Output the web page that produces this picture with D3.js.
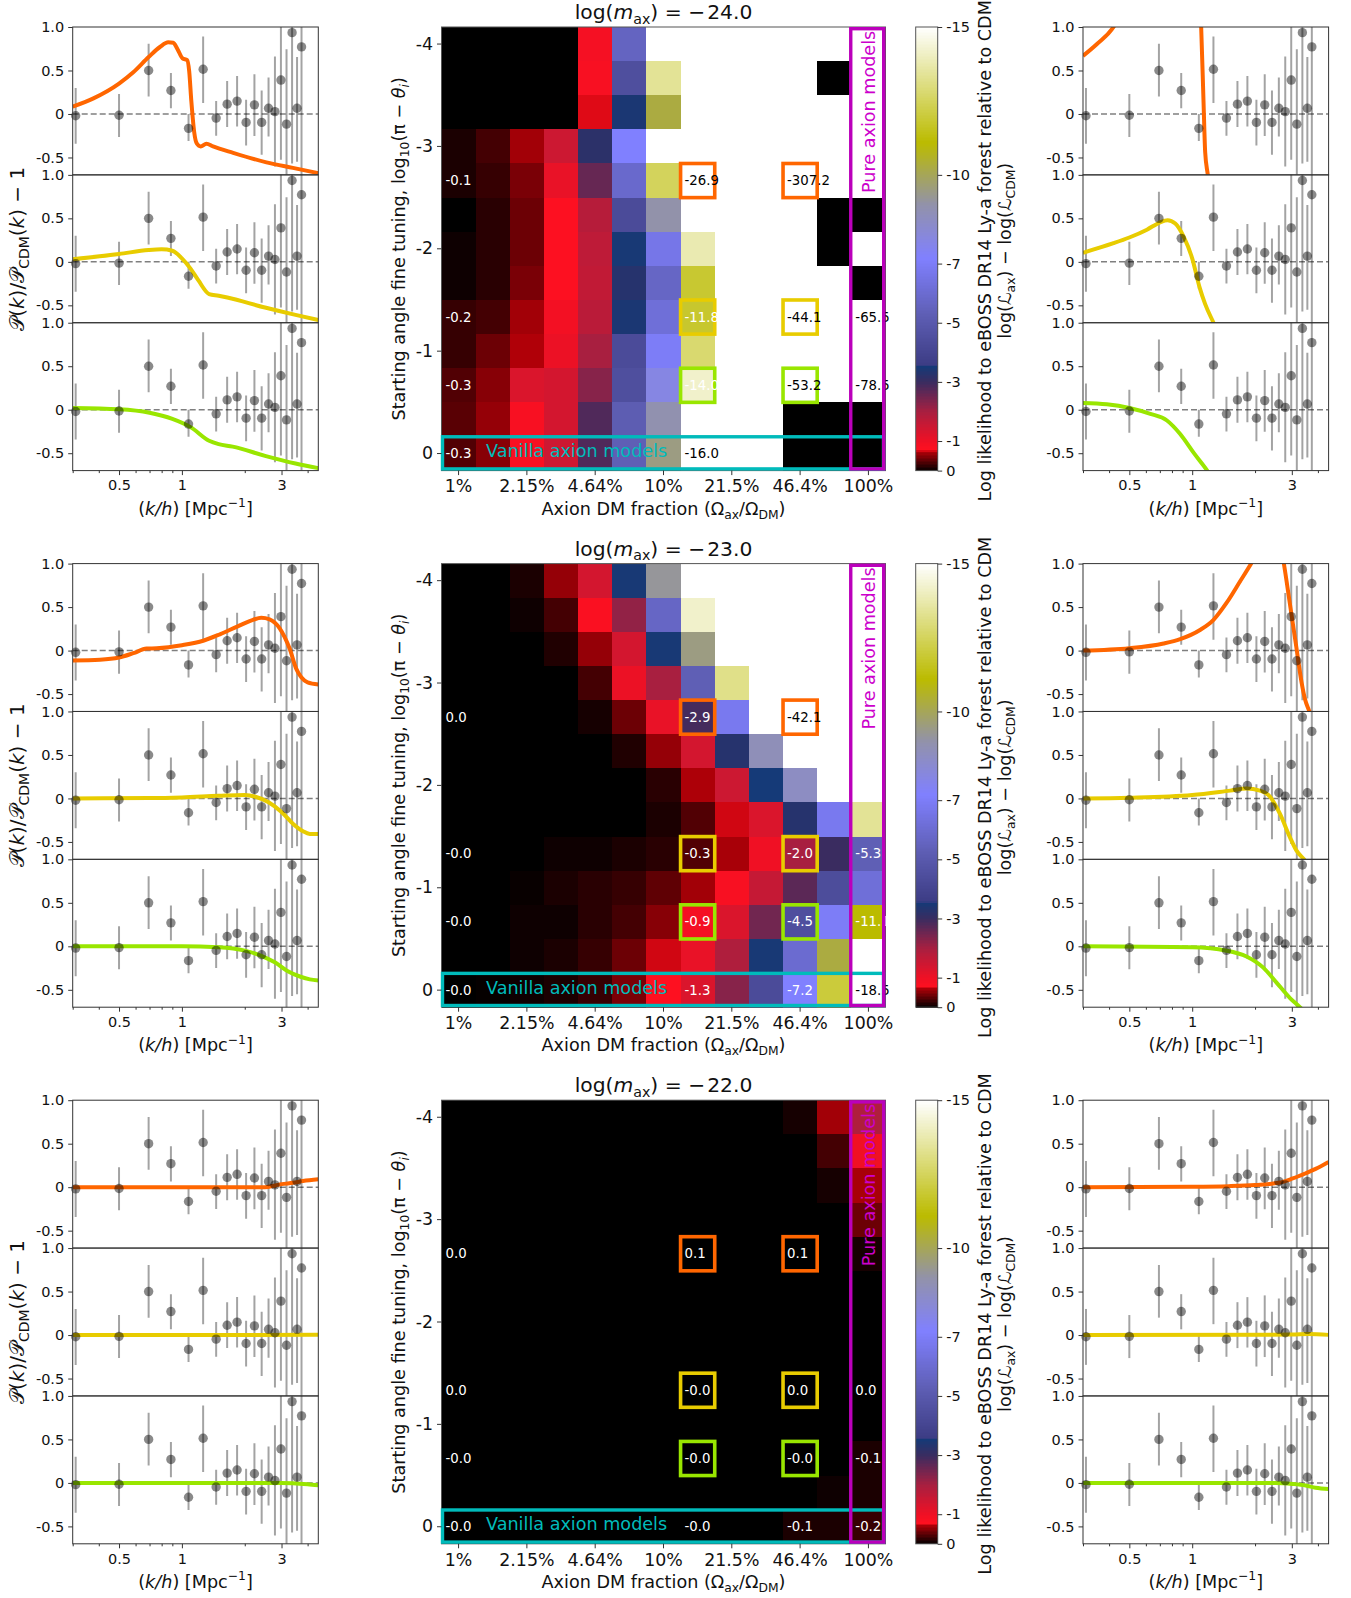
<!DOCTYPE html>
<html>
<head>
<meta charset="utf-8">
<script src="https://cdnjs.cloudflare.com/ajax/libs/d3/7.8.5/d3.min.js"></script>
<style>
html,body{margin:0;padding:0;background:#fff}
svg{display:block;font-family:"DejaVu Sans",sans-serif}
</style>
</head>
<body>
<svg id="fig" width="1351" height="1598"></svg>
<script>
// ---------- data ----------
const W = -20; // beyond the colour scale (drawn white)

const massTitles = ["\u2212\u200A24.0", "\u2212\u200A23.0", "\u2212\u200A22.0"];
const fractionTicks = ["1%", "2.15%", "4.64%", "10%", "21.5%", "46.4%", "100%"];
const tuningTicks = ["-4", "-3", "-2", "-1", "0"];
const colorbarTicks = [0, -1, -3, -5, -7, -10, -15];
const spectrumYTicks = [1, 0.5, 0, -0.5];
const spectrumXMajor = [0.5, 1, 3];
const spectrumXMinor = [0.3, 0.4, 0.6, 0.7, 0.8, 0.9, 2, 4];
const labelRows = [4, 8, 10, 12];
const labelCols = [0, 7, 10, 12];

const heatA = [
 [0,0,0,0,-0.9,-5.6,W,W,W,W,W,W,W],
 [0,0,0,0,-0.85,-4.5,-13.4,W,W,W,W,0,W],
 [0,0,0,0,-0.68,-3.45,-10.3,W,W,W,W,W,W],
 [-0.1,-0.25,-0.6,-1.5,-3.2,-7.2,W,W,W,W,W,W,W],
 [-0.1,-0.2,-0.45,-1.1,-2.6,-5.9,-12.5,-26.9,W,W,-307.2,W,W],
 [0,-0.15,-0.4,-0.75,-1.8,-4.3,-9,W,W,W,W,0,0],
 [-0.05,-0.15,-0.4,-0.75,-1.7,-3.5,-6.6,-13.8,W,W,W,0,W],
 [-0.05,-0.15,-0.45,-0.75,-1.65,-3.3,-5.7,-11.85,W,W,W,W,0],
 [-0.2,-0.25,-0.6,-0.95,-1.75,-3.45,-6.2,-11.8,W,W,-44.1,W,-65.5],
 [-0.2,-0.4,-0.65,-1.05,-2.0,-4.3,-7,-12.8,W,W,W,W,W],
 [-0.3,-0.5,-1.3,-1.4,-2.3,-4.5,-7.8,-14.2,W,W,-53.2,W,-78.5],
 [-0.33,-0.55,-0.85,-1.4,-2.8,-5.2,-8.9,W,W,W,0,0,0],
 [-0.3,-0.5,-0.85,-1.5,-2.8,-5.3,-9.5,-16,W,W,0,0,0]
];
const heatB = [
 [0,0,-0.1,-0.55,-1.4,-3.5,-9.2,W,W,W,W,W,W],
 [0,0,-0.05,-0.25,-0.8,-2.2,-5.7,-14.2,W,W,W,W,W],
 [0,0,0,-0.12,-0.55,-1.4,-3.5,-9.5,W,W,W,W,W],
 [0,0,0,0,-0.25,-1.05,-2,-5.3,-13.2,W,W,W,W],
 [0,0,0,0,-0.08,-0.4,-1.1,-2.9,-6.8,W,-42.1,W,W],
 [0,0,0,0,0,-0.12,-0.55,-1.4,-3.3,-8.7,W,W,W],
 [0,0,0,0,0,0,-0.15,-0.64,-1.5,-3.55,-8.5,W,W],
 [0,0,0,0,0,0,-0.1,-0.3,-0.67,-1.3,-3.3,-6.8,-13.4],
 [0,0,0,-0.05,-0.05,-0.1,-0.15,-0.3,-0.62,-1.0,-2.0,-3.0,-5.3],
 [0,0,-0.03,-0.1,-0.15,-0.2,-0.35,-0.6,-0.85,-1.6,-2.7,-4.4,-6.2],
 [0,0,-0.05,-0.05,-0.15,-0.25,-0.5,-0.9,-1.3,-2.5,-4.5,-7,-11.1],
 [0,0,-0.05,-0.1,-0.2,-0.4,-0.67,-1.1,-1.9,-3.5,-6,-10.3,W],
 [0,-0.02,-0.05,-0.1,-0.2,-0.45,-0.72,-1.3,-2.3,-4.3,-7.2,-12,-18.5]
];
const heatC = [
 [0,0,0,0,0,0,0,0,0,0,-0.08,-0.6,-1.9],
 [0,0,0,0,0,0,0,0,0,0,0,-0.25,-1.0],
 [0,0,0,0,0,0,0,0,0,0,0,-0.08,-0.62],
 [0,0,0,0,0,0,0,0,0,0,0,0,-0.4],
 [0,0,0,0,0,0,0,0,0,0,0,0,-0.08],
 [0,0,0,0,0,0,0,0,0,0,0,0,0],
 [0,0,0,0,0,0,0,0,0,0,0,0,0],
 [0,0,0,0,0,0,0,0,0,0,0,0,0],
 [0,0,0,0,0,0,0,0,0,0,0,0,0],
 [0,0,0,0,0,0,0,0,0,0,0,0,0],
 [0,0,0,0,0,0,0,0,0,0,0,0,-0.1],
 [0,0,0,0,0,0,0,0,0,0,0,-0.05,-0.1],
 [0,0,0,0,0,0,0,0,0,0,-0.1,-0.1,-0.2]
];
// labels: one row per labelRows entry, one item per labelCols entry ("" = none)
const textA = [["-0.1","-26.9","-307.2",""],["-0.2","-11.8","-44.1","-65.5"],["-0.3","-14.0","-53.2","-78.5"],["-0.3","-16.0","",""]];
const textB = [["0.0","-2.9","-42.1",""],["-0.0","-0.3","-2.0","-5.3"],["-0.0","-0.9","-4.5","-11.1"],["-0.0","-1.3","-7.2","-18.5"]];
const textC = [["0.0","0.1","0.1",""],["0.0","-0.0","0.0","0.0"],["-0.0","-0.0","-0.0","-0.1"],["-0.0","-0.0","-0.1","-0.2"]];

const obsK = [0.31,0.5,0.693,0.886,1.076,1.264,1.459,1.647,1.838,2.03,2.225,2.41,2.6,2.79,2.98,3.17,3.37,3.56,3.74];
const obsY = [-0.02,-0.015,0.5,0.27,-0.165,0.514,-0.047,0.113,0.148,-0.097,0.105,-0.097,0.066,0.027,0.39,-0.117,0.935,0.066,0.771];
const obsHi = [0.3,0.23,0.806,0.47,0,0.89,0.15,0.378,0.436,0.164,0.456,0.269,0.42,0.662,1.3,0.744,1.3,0.654,1.3];
const obsLo = [-0.343,-0.265,0.2,0.066,-0.31,0.125,-0.25,-0.15,-0.144,-0.362,-0.253,-0.47,-0.26,-0.604,-0.525,-0.85,-0.57,-0.55,-0.85];

const orangeA1 = [[.3,.085],[.377,.18],[.5,.35],[.585,.48],[.693,.655],[.785,.77],[.86,.824],[.909,.82],[.953,.745],[1.007,.64],[1.06,.62],[1.084,.49],[1.11,.144],[1.145,-.206],[1.18,-.342],[1.23,-.373],[1.31,-.342],[1.41,-.373],[1.76,-.447],[2.54,-.556],[3.4,-.62],[4.5,-.68]];
const yellowA1 = [[.3,.03],[.5,.09],[.693,.136],[.8,.144],[.9,.128],[1,.04],[1.1,-.078],[1.2,-.214],[1.35,-.37],[1.5,-.389],[1.65,-.41],[2.5,-.525],[3.5,-.61],[4.5,-.668]];
const greenA1 = [[.3,.02],[.5,.005],[.7,-.035],[.9,-.105],[1.1,-.2],[1.35,-.357],[1.5,-.396],[1.75,-.424],[2.5,-.53],[3.5,-.618],[4.5,-.672]];
const orangeA2 = [[.3,.668],[.35,.805],[.42,1.0],[.47,1.22],[.6,1.9],[1.0,2.6],[1.07,1.6],[1.104,1.0],[1.133,.144],[1.154,-.44],[1.188,-.7],[1.22,-.95]];
const yellowA2 = [[.3,.105],[.42,.214],[.5,.28],[.607,.37],[.703,.455],[.762,.478],[.83,.44],[.91,.29],[1,.04],[1.084,-.29],[1.154,-.486],[1.265,-.7],[1.35,-.85]];
const greenA2 = [[.3,.078],[.39,.062],[.5,.02],[.63,-.047],[.757,-.124],[.876,-.28],[1.015,-.494],[1.18,-.7],[1.3,-.85]];

const orangeB1 = [[.3,-.113],[.405,-.105],[.5,-.08],[.585,-.03],[.678,.023],[.757,.027],[1,.062],[1.265,.113],[1.52,.187],[1.84,.276],[2.19,.354],[2.4,.377],[2.63,.36],[2.94,.256],[3.28,.023],[3.53,-.21],[3.73,-.307],[4,-.365],[4.5,-.389]];
const yellowB1 = [[.3,0],[.7,.004],[1,.012],[1.5,.03],[2,.039],[2.25,.02],[2.6,-.043],[3,-.155],[3.4,-.29],[3.8,-.377],[4.1,-.408],[4.5,-.41]];
const greenB1 = [[.3,0],[1,0],[1.5,-.012],[2,-.05],[2.4,-.109],[2.8,-.187],[3.2,-.284],[3.7,-.35],[4.1,-.38],[4.5,-.393]];
const orangeB2 = [[.3,0],[.5,.027],[.73,.082],[.876,.132],[1.09,.237],[1.265,.354],[1.46,.548],[1.7,.8],[1.91,.995],[2.19,1.25],[2.36,1.5],[2.54,1.45],[2.75,.995],[2.94,.53],[3.16,.023],[3.34,-.365],[3.47,-.56],[3.64,-.7],[3.8,-.85]];
const yellowB2 = [[.3,0],[.5,.008],[1,.039],[1.52,.09],[1.82,.113],[2.11,.09],[2.36,.02],[2.63,-.175],[2.94,-.447],[3.16,-.6],[3.43,-.7],[3.7,-.8]];
const greenB2 = [[.3,0],[1,-.012],[1.46,-.05],[1.82,-.117],[2.19,-.245],[2.54,-.42],[2.94,-.595],[3.28,-.7],[3.6,-.8]];

const orangeC1 = [[.3,0],[2.5,0],[2.8,.02],[3,.035],[3.4,.05],[3.8,.07],[4.5,.09]];
const yellowC1 = [[.3,0],[4.5,.002]];
const greenC1 = [[.3,0],[3,0],[3.4,-.004],[4,-.016],[4.5,-.028]];
const orangeC2 = [[.3,0],[1,.005],[1.5,.012],[2,.025],[2.6,.05],[3.03,.1],[3.5,.16],[3.9,.21],[4.5,.29]];
const yellowC2 = [[.3,0],[3,.005],[3.6,.012],[4.5,.002]];
const greenC2 = [[.3,0],[2.5,0],[3.03,-.012],[3.5,-.03],[3.9,-.055],[4.5,-.07]];

const modelColors = ["#ff6600", "#e8cc00", "#99e600"];
const colorStops = [0,-0.65,-0.7,-1,-2,-3,-3.56,-3.58,-5.3,-7.2,-9,-11.1,-15];
const colorRamp = ["#000000","#b00008","#ff1020","#f01024","#a81f40","#3a2c60","#143a78","#3c3c84","#5f5fb5","#8080ff","#9292aa","#bbbb00","#ffffff"];

// ---------- layout ----------
const rowTops = [27, 563.6, 1100.2];
const plotH = 443.6;
const leftX = 72.7, rightX = 1083, specW = 245.6;
const heatX = 441.5, heatW = 444;
const barX = 915.7, barW = 22;
const ink = "#333";
const labelSize = 17.6;

const svg = d3.select("#fig");
const color = d3.scaleLinear().domain(colorStops).range(colorRamp).clamp(true);

// mixed text: parts are strings or {t, i, sub, sup}
function rich(sel, parts) {
  let shift = 0;
  parts.forEach(p => {
    const o = typeof p === "string" ? {t: p} : p;
    const ts = sel.append("tspan").text(o.t);
    const want = o.sub ? 0.24 : o.sup ? -0.42 : 0;
    const size = parseFloat(sel.attr("font-size"));
    const dy = (want - shift) * size;
    if (dy) ts.attr("dy", dy);
    shift = want;
    if (o.sub || o.sup) ts.attr("font-size", size * 0.7);
    if (o.i) ts.attr("font-style", "italic");
  });
  return sel;
}
function rotated(x, y, size, parts) {
  return rich(svg.append("text").attr("transform", `translate(${x},${y}) rotate(-90)`)
    .attr("text-anchor", "middle").attr("font-size", size).attr("fill", "#111"), parts);
}
function styleAxis(g, size) {
  g.select(".domain").remove();
  g.selectAll("line").attr("stroke", ink).attr("stroke-width", 1);
  g.selectAll("text").attr("fill", "#111").attr("font-size", size || 14.5)
    .attr("font-family", '"DejaVu Sans",sans-serif');
}

const kScale = d3.scaleLog().domain([0.3, 4.5]);
const specCurve = [[orangeA1,yellowA1,greenA1],[orangeB1,yellowB1,greenB1],[orangeC1,yellowC1,greenC1]];
const specCurve2 = [[orangeA2,yellowA2,greenA2],[orangeB2,yellowB2,greenB2],[orangeC2,yellowC2,greenC2]];
let clipId = 0;

function specPanel(x0, y0, h, pts, col, last) {
  const xs = kScale.copy().range([x0, x0 + specW]);
  const ys = d3.scaleLinear().domain([-0.7, 1]).range([y0 + h, y0]);
  const id = "c" + (clipId++);
  svg.append("clipPath").attr("id", id).append("rect")
    .attr("x", x0).attr("y", y0).attr("width", specW).attr("height", h);
  const g = svg.append("g");
  const inner = g.append("g").attr("clip-path", `url(#${id})`);
  inner.append("line").attr("x1", x0).attr("x2", x0 + specW).attr("y1", ys(0)).attr("y2", ys(0))
    .attr("stroke", "#000").attr("stroke-opacity", 0.5).attr("stroke-width", 1.5).attr("stroke-dasharray", "6,3");
  inner.selectAll("line.err").data(obsK).join("line").attr("class", "err")
    .attr("x1", d => xs(d)).attr("x2", d => xs(d))
    .attr("y1", (d, i) => ys(obsHi[i])).attr("y2", (d, i) => ys(obsLo[i]))
    .attr("stroke", "#000").attr("stroke-opacity", 0.36).attr("stroke-width", 2);
  inner.append("path").datum(pts)
    .attr("d", d3.line().x(d => xs(d[0])).y(d => ys(d[1])).curve(d3.curveMonotoneX))
    .attr("fill", "none").attr("stroke", col).attr("stroke-width", 4);
  g.selectAll("circle").data(obsK).join("circle")
    .attr("cx", d => xs(d)).attr("cy", (d, i) => ys(obsY[i])).attr("r", 4.7)
    .attr("fill", "#000").attr("fill-opacity", 0.46);
  g.append("rect").attr("x", x0).attr("y", y0).attr("width", specW).attr("height", h)
    .attr("fill", "none").attr("stroke", ink).attr("stroke-width", 1);
  g.append("g").attr("transform", `translate(${x0},0)`)
    .call(d3.axisLeft(ys).tickValues(spectrumYTicks).tickSize(4.5).tickPadding(4)
      .tickFormat(d => d === 0 ? "0" : d === 1 ? "1.0" : String(d))).call(styleAxis);
  if (last) {
    const yb = y0 + h;
    g.append("g").attr("transform", `translate(0,${yb})`)
      .call(d3.axisBottom(xs).tickValues(spectrumXMajor).tickSize(4.5).tickPadding(5).tickFormat(d => String(d))).call(styleAxis);
    g.append("g").attr("transform", `translate(0,${yb})`)
      .call(d3.axisBottom(xs).tickValues(spectrumXMinor).tickSize(2.5).tickFormat("")).call(styleAxis);
    rich(g.append("text").attr("x", x0 + specW / 2).attr("y", yb + 44).attr("text-anchor", "middle")
      .attr("font-size", labelSize).attr("fill", "#111"),
      ["(", {t: "k/h", i: 1}, ") [Mpc", {t: "\u22121", sup: 1}, {t: "]"}]);
  }
}

function heatPanel(y0, matrix, text, title) {
  const xb = d3.scaleBand().domain(d3.range(13)).range([heatX, heatX + heatW]);
  const yb = d3.scaleBand().domain(d3.range(13)).range([y0, y0 + plotH]);
  const g = svg.append("g");
  g.append("g").attr("shape-rendering", "crispEdges").selectAll("g").data(matrix).join("g")
    .each(function (row, r) {
      d3.select(this).selectAll("rect").data(row).join("rect")
        .attr("x", (d, c) => xb(c)).attr("y", yb(r))
        .attr("width", xb.bandwidth() + 0.5).attr("height", yb.bandwidth() + 0.5)
        .attr("fill", d => color(d));
    });
  g.append("rect").attr("x", heatX).attr("y", y0).attr("width", heatW).attr("height", plotH)
    .attr("fill", "none").attr("stroke", "#555").attr("stroke-width", 1);

  // highlighted models
  [labelCols[1], labelCols[2]].forEach(c => {
    [0, 1, 2].forEach(i => {
      g.append("rect").attr("x", xb(c)).attr("y", yb(labelRows[i]))
        .attr("width", xb.bandwidth()).attr("height", yb.bandwidth())
        .attr("fill", "none").attr("stroke", modelColors[i]).attr("stroke-width", 3.6);
    });
  });
  // cell labels
  labelRows.forEach((r, i) => labelCols.forEach((c, j) => {
    if (!text[i][j]) return;
    g.append("text").attr("x", xb(c) + 4).attr("y", yb(r) + yb.bandwidth() / 2 + 0.5)
      .attr("dominant-baseline", "middle").attr("font-size", 13.3)
      .attr("fill", matrix[r][c] < -15 ? "#000" : "#fff").text(text[i][j]);
  }));
  // vanilla band and pure-axion column
  g.append("rect").attr("x", heatX + 1).attr("y", yb(12) + 0.3)
    .attr("width", heatW - 3).attr("height", yb.bandwidth() - 2)
    .attr("fill", "none").attr("stroke", "#00bbbb").attr("stroke-width", 3.4);
  g.append("text").attr("x", heatX + 44.5).attr("y", yb(12) + 20.5).attr("font-size", labelSize)
    .attr("fill", "#00bbbb").text("Vanilla axion models");
  g.append("rect").attr("x", xb(12) - 0.6).attr("y", y0 + 1.7)
    .attr("width", xb.bandwidth() - 1.2).attr("height", plotH - 3.4)
    .attr("fill", "none").attr("stroke", "#bb00bb").attr("stroke-width", 3.4);
  g.append("text").attr("transform", `translate(${xb(12) + 23.5},${y0 + 166}) rotate(-90)`)
    .attr("font-size", labelSize).attr("fill", "#cc00cc").text("Pure axion models");

  // axes
  const xTickCols = fractionTicks.map((d, i) => i * 2);
  g.append("g").attr("transform", `translate(0,${y0 + plotH})`)
    .call(d3.axisBottom(xb).tickValues(xTickCols).tickSize(4.5).tickPadding(5)
      .tickFormat(d => fractionTicks[d / 2])).call(styleAxis, 17.4);
  const yTickRows = tuningTicks.map((d, i) => i * 3);
  g.append("g").attr("transform", `translate(${heatX},0)`)
    .call(d3.axisLeft(yb).tickValues(yTickRows).tickSize(4.5).tickPadding(4)
      .tickFormat(d => tuningTicks[d / 3])).call(styleAxis, 17.4);

  rich(g.append("text").attr("x", heatX + heatW / 2).attr("y", y0 - 8).attr("text-anchor", "middle")
    .attr("font-size", 20.3).attr("fill", "#111"),
    ["log(", {t: "m", i: 1}, {t: "ax", sub: 1}, ") = ", title]);
  rich(g.append("text").attr("x", heatX + heatW / 2).attr("y", y0 + plotH + 44).attr("text-anchor", "middle")
    .attr("font-size", labelSize).attr("fill", "#111"),
    ["Axion DM fraction (\u03A9", {t: "ax", sub: 1}, "/\u03A9", {t: "DM", sub: 1}, ")"]);
  rotated(heatX - 37, y0 + plotH / 2, labelSize,
    ["Starting angle fine tuning, log", {t: "10", sub: 1}, "(\u03C0 \u2212 ", {t: "\u03B8", i: 1}, {t: "i", i: 1, sub: 1}, ")"]);

  // colour bar
  const cs = d3.scaleLinear().domain([0, -15]).range([y0 + plotH, y0]);
  const steps = d3.range(0, -15, -0.05);
  g.append("g").attr("shape-rendering", "crispEdges").selectAll("rect").data(steps).join("rect")
    .attr("x", barX).attr("width", barW)
    .attr("y", d => cs(d - 0.05)).attr("height", d => cs(d) - cs(d - 0.05) + 0.5)
    .attr("fill", d => color(d - 0.025));
  g.append("rect").attr("x", barX).attr("y", y0).attr("width", barW).attr("height", plotH)
    .attr("fill", "none").attr("stroke", "#555").attr("stroke-width", 1);
  g.append("g").attr("transform", `translate(${barX + barW},0)`)
    .call(d3.axisRight(cs).tickValues(colorbarTicks).tickSize(4.5).tickPadding(4).tickFormat(d => String(d))).call(styleAxis);
  rotated(991, y0 + plotH / 2 + 2, labelSize, ["Log likelihood to eBOSS DR14 Ly-a forest relative to CDM"]);
  rotated(1010.5, y0 + plotH / 2 + 2, labelSize, ["log(", {t: "\u2112", i: 1}, {t: "ax", sub: 1}, ") \u2212 log(", {t: "\u2112", i: 1}, {t: "CDM", sub: 1}, ")"]);
}

const allMatrices = [heatA, heatB, heatC];
const allTexts = [textA, textB, textC];
rowTops.forEach((y0, row) => {
  const h = plotH / 3;
  [0, 1, 2].forEach(i => {
    specPanel(leftX, y0 + i * h, h, specCurve[row][i], modelColors[i], i === 2);
    specPanel(rightX, y0 + i * h, h, specCurve2[row][i], modelColors[i], i === 2);
  });
  rotated(24, y0 + plotH / 2, 20, [{t: "\uD835\uDCAB"}, "(", {t: "k", i: 1}, ")/", {t: "\uD835\uDCAB"}, {t: "CDM", sub: 1}, "(", {t: "k", i: 1}, ") \u2212 1"]);
  heatPanel(y0, allMatrices[row], allTexts[row], massTitles[row]);
});
</script>
</body>
</html>
